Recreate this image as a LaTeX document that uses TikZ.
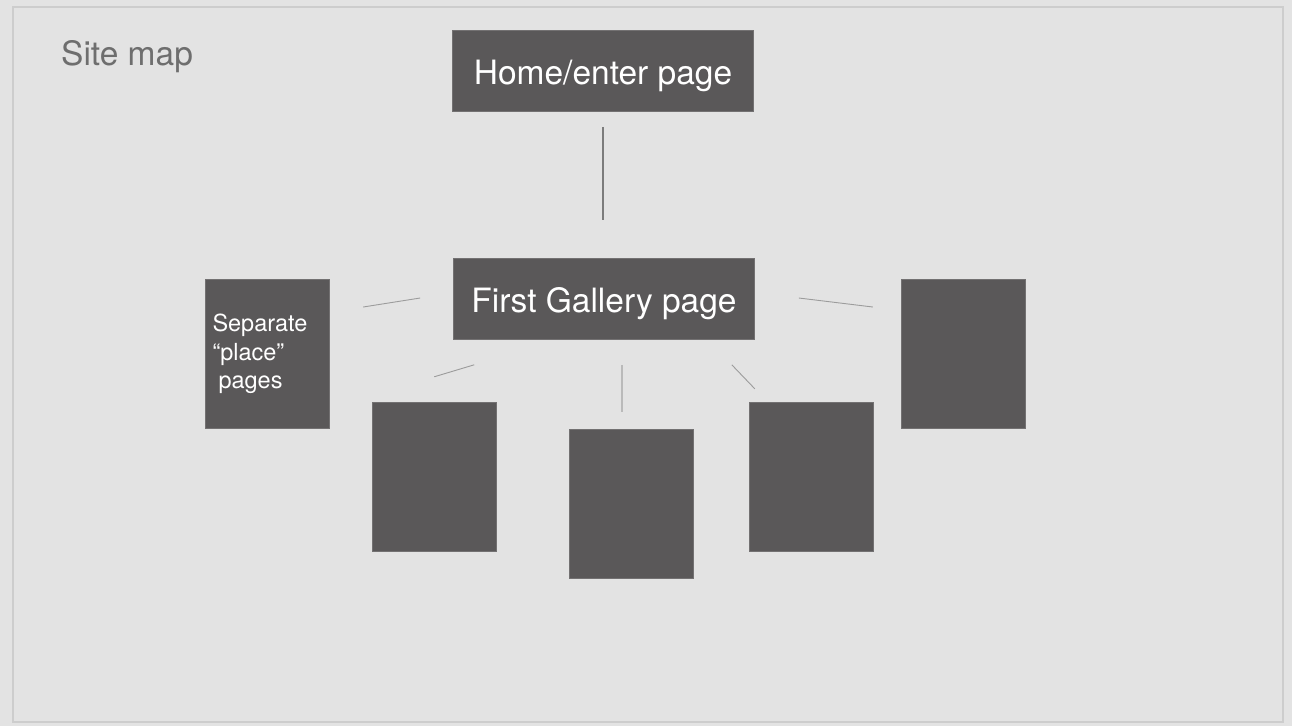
\documentclass[tikz,border=0pt]{standalone}
\usepackage{fontspec}
\setmainfont{TeX Gyre Heros}
\usetikzlibrary{positioning}
\definecolor{pagina}{HTML}{5A5859}
\definecolor{sfondo}{HTML}{E3E3E3}
\definecolor{cornice}{HTML}{CDCDCD}
\definecolor{titolo}{HTML}{6E6E6E}
\definecolor{filo}{HTML}{9C9C9C}
\definecolor{stelo}{HTML}{7C7C7C}
\tikzset{
  pag/.style={fill=pagina, draw=pagina!85!white, line width=0.6pt, text=white, inner sep=0pt},
  wide/.style={pag, minimum width=301pt, minimum height=81pt, text height=26pt, text depth=0pt,
    font=\fontsize{33.5}{40}\selectfont},
  tall/.style={pag, minimum width=124pt, minimum height=149pt},
  filo/.style={draw=filo, line width=0.9pt},
  stelo/.style={draw=stelo, line width=1.8pt}
}
\begin{document}
\begin{tikzpicture}[x=1pt,y=-1pt]
          \fill[sfondo] (0,0) rectangle (1292,726);
          \draw[cornice, line width=2pt] (13,7) rectangle (1283,722);
          \useasboundingbox (0,0) rectangle (1292,726);
          \draw (61,65) node[anchor=base west, inner sep=0pt, text=titolo,
            font=\fontsize{33.5}{40}\selectfont](titolo){Site map};
          \draw (603,71) node[wide](home){Home/enter page};
          \draw (604,299) node[wide](gallery){First Gallery page};
          % pagine dei luoghi
          \draw (267.5,354) node[tall, align=left, text width=110pt, inner xsep=7pt,
            font=\fontsize{23.5}{28.5}\selectfont](luoghi){Separate\\“place”\\\hspace{6pt}pages};
          \draw (434.5,477) node[tall](p1){};
          \draw (631.5,504) node[tall](p2){};
          \draw (811.5,477) node[tall](p3){};
          \draw (963.5,354) node[tall](p4){};
          \draw[stelo, shorten <=15pt, shorten >=38pt] (home.south) -- (home.south |- gallery.north);
          \draw[filo] (gallery.west) ++(-33,-1) -- ++(-57,9);
          \draw[filo] (gallery.south west) ++(21,25) -- ++(-40,12);
          \draw[filo, draw=filo!70!white, line width=1.3pt] (gallery.south) ++(18,25) -- ++(0,47);
          \draw[filo] (gallery.south east) ++(-23,25) -- ++(23,24);
          \draw[filo] (gallery.east) ++(44,-1) -- ++(74,9);
      \end{tikzpicture}
\end{document}
